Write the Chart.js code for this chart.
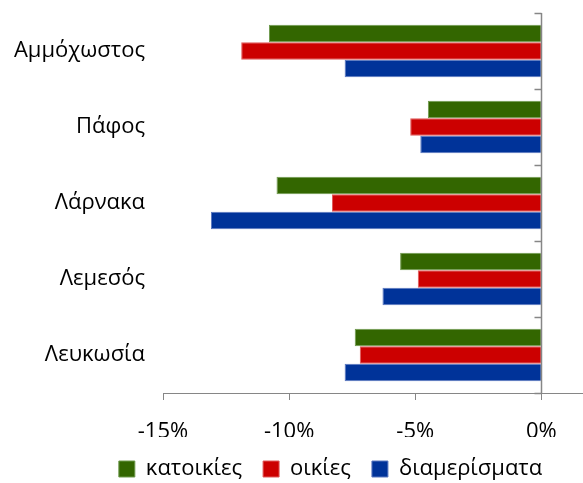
<!DOCTYPE html>
<html>
<head>
<meta charset="utf-8">
<script src="https://cdn.jsdelivr.net/npm/chart.js"></script>
<style>
  html, body { margin: 0; padding: 0; background: #fff; }
  #wrap { width: 583px; height: 483px; }
</style>
</head>
<body>
<div id="wrap"><canvas id="myChart" width="583" height="483"></canvas></div>
<script>
const categories = ['Αμμόχωστος', 'Πάφος', 'Λάρνακα', 'Λεμεσός', 'Λευκωσία'];
const seriesNames = ['κατοικίες', 'οικίες', 'διαμερίσματα'];
const katoikies = [-10.8, -4.5, -10.5, -5.6, -7.4];
const oikies = [-11.9, -5.2, -8.3, -4.9, -7.2];
const diamerismata = [-7.8, -4.8, -13.1, -6.3, -7.8];
const xTicks = [-15, -10, -5, 0];

const axisGray = '#868686';
const font = "'Open Sans', 'Noto Sans', sans-serif";

// vertical axis sits at 0%, with marks between categories
const zeroAxis = {
    id: 'zeroAxis',
    afterLayout(chart) {
        // legend in the original sits a bit right of centre
        chart.legend.left += 39;
        chart.legend.right += 39;
    },
    afterDatasetsDraw(chart) {
        const ctx = chart.ctx;
        const x = chart.scales.x;
        const px = Math.round(x.getPixelForValue(0)) + 0.5;
        const area = chart.chartArea;
        const step = (area.bottom - area.top) / categories.length;
        ctx.save();
        ctx.strokeStyle = axisGray;
        ctx.lineWidth = 1.5;
        ctx.beginPath();
        ctx.moveTo(px, area.top);
        ctx.lineTo(px, area.bottom);
        for (let i = 0; i <= categories.length; i++) {
            const ty = Math.round(area.top + i * step) + 0.5;
            ctx.moveTo(px - 7, ty);
            ctx.lineTo(px, ty);
        }
        ctx.stroke();
        ctx.restore();
    }
};

const ctx = document.getElementById('myChart').getContext('2d');
new Chart(ctx, {
    type: 'bar',
    data: {
        labels: categories,
        datasets: [
            { label: seriesNames[0], data: katoikies, backgroundColor: '#336600', borderColor: '#6f9a4d', borderWidth: 1 },
            { label: seriesNames[1], data: oikies, backgroundColor: '#cc0000', borderColor: '#e05a5a', borderWidth: 1 },
            { label: seriesNames[2], data: diamerismata, backgroundColor: '#003399', borderColor: '#5a78c0', borderWidth: 1 }
        ]
    },
    options: {
        indexAxis: 'y',
        responsive: false,
        animation: false,
        categoryPercentage: 0.69,
        barPercentage: 1,
        layout: { padding: { top: 13, right: 0, left: 0, bottom: 0 } },
        plugins: {
            tooltip: { enabled: false },
            legend: {
                position: 'bottom',
                maxHeight: 46,
                labels: {
                    boxWidth: 16,
                    boxHeight: 16,
                    padding: 21,
                    color: '#000',
                    font: { family: font, size: 22 }
                }
            }
        },
        scales: {
            x: {
                min: -15,
                max: 1.65,
                afterBuildTicks: scale => { scale.ticks = xTicks.map(v => ({ value: v })); },
                afterFit: scale => { scale.height = 44; },
                border: { display: true, color: axisGray, width: 1 },
                grid: { drawOnChartArea: false, drawTicks: true, tickLength: 7, color: axisGray },
                ticks: {
                    padding: 19,
                    color: '#000',
                    maxRotation: 0,
                    font: { family: font, size: 22 },
                    callback: v => v + '%'
                }
            },
            y: {
                position: 'left',
                afterFit: scale => {
                    scale.width = 163;
                    scale.paddingTop = 0;
                    scale.paddingBottom = 0;
                },
                border: { display: false },
                grid: { display: false },
                ticks: {
                    padding: 10,
                    color: '#000',
                    font: { family: font, size: 22 }
                }
            }
        }
    },
    plugins: [zeroAxis]
});
</script>
</body>
</html>
